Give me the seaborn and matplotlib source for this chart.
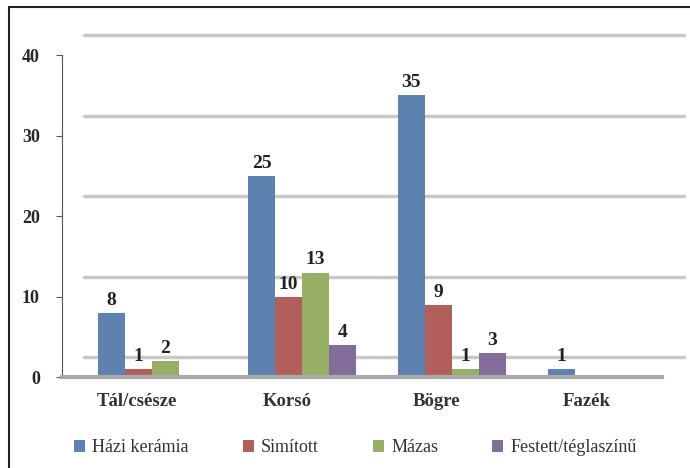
import pandas as pd
import seaborn as sns
import matplotlib.pyplot as plt
from matplotlib.patches import Rectangle
from matplotlib.transforms import ScaledTranslation

categories = ['Tál/csésze', 'Korsó', 'Bögre', 'Fazék']
series = ['Házi kerámia', 'Simított', 'Mázas', 'Festett/téglaszínű']
hazi = [8, 25, 35, 1]
simitott = [1, 10, 9, 0]
mazas = [2, 13, 1, 0]
festett = [0, 4, 3, 0]
colors = ['#4F81BD', '#C0504D', '#9BBB59', '#8064A2']

rows = []
for name, vals in zip(series, [hazi, simitott, mazas, festett]):
    for cat, v in zip(categories, vals):
        rows.append({'cat': cat, 'series': name, 'val': v})
df = pd.DataFrame(rows)

sns.set_style('white')
plt.rcParams['font.family'] = ['Liberation Serif', 'DejaVu Serif']

fig = plt.figure(figsize=(6.9, 4.68), dpi=100)
ax = fig.add_axes([0.09, 0.194, 0.869, 0.688])

sns.barplot(data=df, x='cat', y='val', hue='series', palette=colors,
            width=0.72, ax=ax, legend=True, edgecolor='none')

for cont in ax.containers:
    labels = [f'{b.get_height():.0f}' if b.get_height() > 0 else '' for b in cont]
    ax.bar_label(cont, labels=labels, padding=3, fontsize=14, fontweight='bold', color='#222222')

ax.set_ylim(0, 40)
ax.set_xlim(-0.6, 3.4)
ax.set_yticks([0, 10, 20, 30, 40])
ax.yaxis.grid(True, color='#c8c8c8', linewidth=2.5)
ax.set_axisbelow(True)
# push gridlines back like a 3D back wall
back = ScaledTranslation(0.22, 0.20, fig.dpi_scale_trans)
for gl in ax.get_ygridlines():
    gl.set_transform(gl.get_transform() + back)
    gl.set_clip_on(False)

ax.set_xlabel('')
ax.set_ylabel('')
ax.tick_params(axis='y', labelsize=13, left=True, length=4, color='#555555', pad=12)
ax.tick_params(axis='x', labelsize=13.5, bottom=False, pad=8)
for lab in ax.get_yticklabels():
    lab.set_fontweight('bold')
shift = ScaledTranslation(-0.15, 0, fig.dpi_scale_trans)
for lab in ax.get_xticklabels():
    lab.set_fontweight('bold')
    lab.set_color('#333333')
    lab.set_transform(lab.get_transform() + shift)
for side in ['top', 'right']:
    ax.spines[side].set_visible(False)
ax.spines['left'].set_color('#555555')
ax.spines['bottom'].set_color('#aaaaaa')
ax.spines['bottom'].set_linewidth(3)

handles, lbls = ax.get_legend_handles_labels()
ax.get_legend().remove()
leg = fig.legend(handles, lbls, loc='lower center', ncol=4, bbox_to_anchor=(0.515, -0.01),
                 frameon=False, fontsize=13, handlelength=0.6, handleheight=0.6,
                 columnspacing=3.0, handletextpad=0.4)
for t in leg.get_texts():
    t.set_color('#333333')

fig.patches.append(Rectangle((0.013, -0.01), 0.99, 0.995, transform=fig.transFigure,
                             fill=False, edgecolor='#222222', linewidth=1.5))

fig.savefig('out.png', dpi=100)
